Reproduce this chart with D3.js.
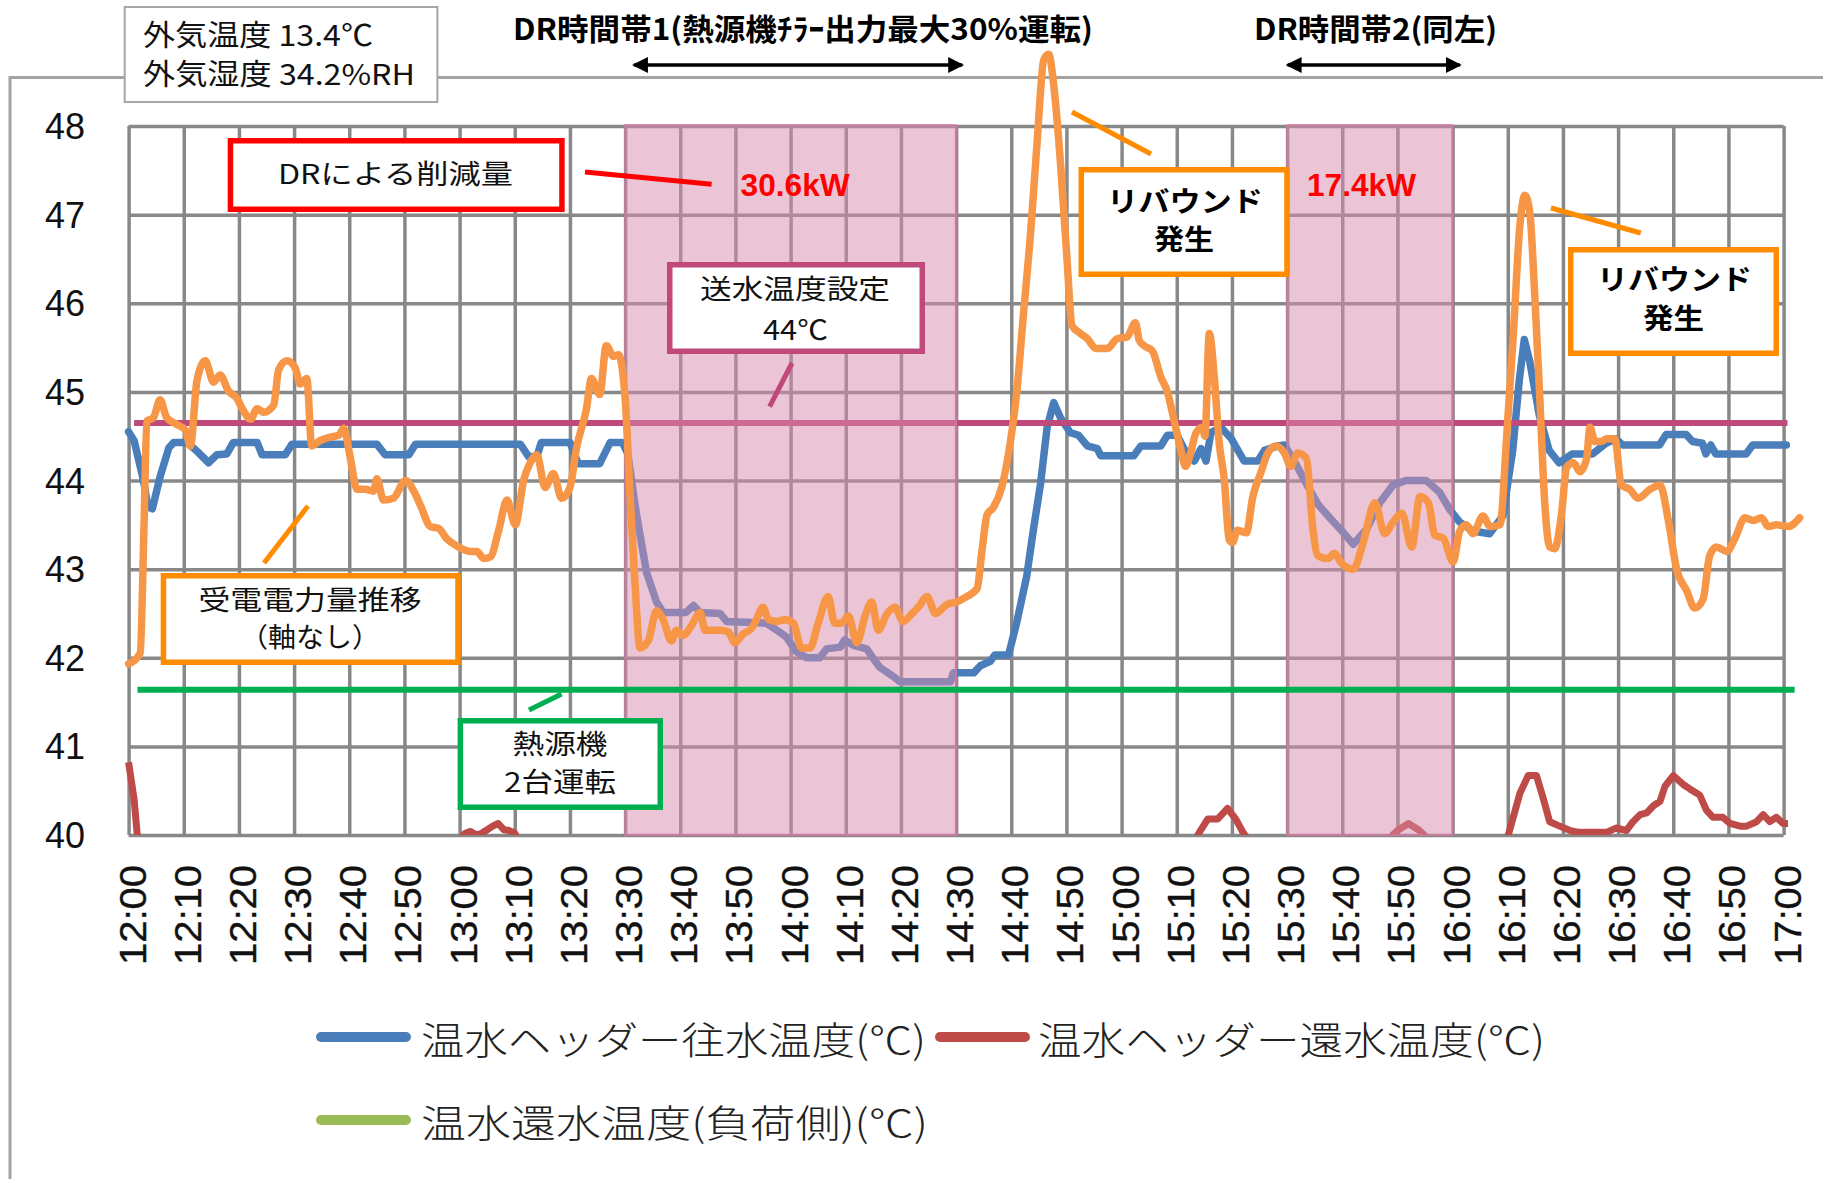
<!DOCTYPE html>
<html><head><meta charset="utf-8">
<script src="https://cdn.jsdelivr.net/npm/d3@7"></script>
<style>html,body{margin:0;padding:0;background:#fff;}svg{display:block;}</style>
</head><body>
<svg id="chart" width="1823" height="1179"></svg>
<script>
// ---------- data ----------
const xTickMinutes = [0,10,20,30,40,50,60,70,80,90,100,110,120,130,140,150,160,170,180,190,200,210,220,230,240,250,260,270,280,290,300];
const xTickLabels = ["12:00","12:10","12:20","12:30","12:40","12:50","13:00","13:10","13:20","13:30","13:40","13:50","14:00","14:10","14:20","14:30","14:40","14:50","15:00","15:10","15:20","15:30","15:40","15:50","16:00","16:10","16:20","16:30","16:40","16:50","17:00"];
const yTicks = [40,41,42,43,44,45,46,47,48];
const drPeriods = [[90,150],[210,240]];
const legendNames = ["温水ヘッダー往水温度(℃)","温水ヘッダー還水温度(℃)","温水還水温度(負荷側)(℃)"];

// 温水ヘッダー往水温度 [minutes after 12:00, ℃]
const supplyTemp = [[0,44.55],[1,44.45],[2.7,44.0],[3.5,43.7],[4.3,43.68],[5.7,44.04],[7.3,44.37],[8.2,44.43],[10.6,44.43],[12.4,44.33],[14.5,44.2],[16,44.29],[17.8,44.3],[19,44.43],[23.3,44.43],[24.2,44.29],[28.4,44.29],[29.6,44.41],[45,44.41],[46.5,44.29],[50.8,44.29],[52,44.41],[71,44.41],[72.5,44.27],[74,44.27],[74.8,44.43],[80,44.43],[81.5,44.19],[85.4,44.19],[87.3,44.43],[89.5,44.43],[90.5,44.3],[92,43.64],[93.9,42.96],[95.7,42.63],[96.9,42.51],[101,42.51],[102.4,42.59],[103.6,42.51],[107.2,42.5],[108.4,42.41],[115.6,42.39],[118,42.29],[119.3,42.23],[121,42.07],[122.9,42.0],[125.3,42.0],[126.5,42.1],[129,42.12],[129.8,42.2],[131.4,42.14],[133.8,42.1],[135,41.99],[136.2,41.89],[138.6,41.79],[139.8,41.73],[149,41.73],[149.5,41.83],[153.2,41.83],[154.4,41.91],[156.2,41.96],[157,42.03],[159.5,42.03],[161,42.4],[162.8,42.92],[164,43.44],[165.3,43.96],[166.5,44.6],[167.7,44.88],[168.9,44.71],[170.7,44.54],[172.2,44.51],[173.8,44.39],[175.6,44.36],[176.2,44.28],[182.2,44.28],[183.5,44.39],[187.1,44.39],[188.3,44.51],[190.1,44.51],[191.3,44.36],[193.2,44.22],[194.4,44.36],[195.3,44.22],[196.2,44.54],[198,44.6],[199.8,44.48],[202.2,44.22],[204.7,44.22],[205.9,44.34],[208.3,44.39],[209.5,44.4],[211.3,44.22],[213.8,43.93],[215.6,43.73],[218,43.56],[219.8,43.44],[222,43.28],[224.4,43.45],[226.8,43.75],[229.2,43.95],[231.6,44.0],[235.2,44.0],[237.6,43.87],[239.5,43.67],[241.3,43.53],[243.7,43.43],[246.7,43.4],[249.1,43.6],[250.9,44.34],[252.1,45.14],[253,45.59],[254,45.34],[255.7,44.74],[257.5,44.34],[259.3,44.2],[261.7,44.3],[265.4,44.3],[267.8,44.42],[269.6,44.47],[270.8,44.4],[277.5,44.4],[278.7,44.52],[282.3,44.52],[283.5,44.44],[285.3,44.42],[285.9,44.3],[286.8,44.4],[287.7,44.3],[293.2,44.3],[294.4,44.4],[300.5,44.4]];

// 温水ヘッダー還水温度 (mostly below 40, hidden under axis)
const returnTemp = [[0,40.82],[1,40.4],[2,39.7],[3,39.5],[59,39.5],[60,39.95],[61,40.02],[62,40.04],[63,40.0],[64,40.02],[65,40.06],[66,40.1],[67,40.13],[68,40.06],[69,40.05],[70,40.02],[71,39.9],[72,39.5],[192,39.5],[193.8,40.0],[195.6,40.18],[197.4,40.18],[199.2,40.3],[200.7,40.18],[201.9,40.04],[203.5,39.9],[204.5,39.5],[226,39.5],[228,39.93],[230,40.05],[232,40.13],[234,40.05],[236,39.93],[238,39.5],[248,39.5],[250.1,40.0],[252.2,40.47],[253.7,40.67],[255.2,40.67],[256.4,40.42],[257.6,40.15],[259.4,40.1],[261.3,40.05],[263,40.03],[267.9,40.03],[269.7,40.08],[271.5,40.05],[272.7,40.15],[274,40.23],[275.2,40.25],[276.4,40.33],[277.6,40.38],[278.5,40.55],[280,40.67],[281.8,40.57],[283,40.52],[284.8,40.45],[286,40.28],[287.2,40.2],[289,40.2],[290.3,40.13],[292.1,40.1],[293.3,40.1],[295.1,40.15],[296.3,40.23],[297.5,40.15],[298.7,40.2],[299.9,40.13],[300.8,40.13]];

// 受電電力量推移 (軸なし) — plotted on the same vertical scale
const powerTrend = [[0,41.93],[2.1,42.05],[2.8,43.5],[3.3,44.67],[4.5,44.71],[5.7,44.91],[6.9,44.71],[8.8,44.63],[10.3,44.57],[11.2,44.39],[12.4,45.13],[13.9,45.35],[15.4,45.11],[16.6,45.19],[18.1,45.01],[19.6,44.93],[20.8,44.79],[22.1,44.69],[23.3,44.81],[24.5,44.77],[26.3,44.85],[27.2,45.25],[28.7,45.35],[30.2,45.27],[31.1,45.09],[32.3,45.15],[33.2,44.39],[34.7,44.45],[36.6,44.49],[38.1,44.51],[39,44.59],[40.2,44.25],[41.4,43.9],[42.9,43.9],[44.4,43.88],[45,44.02],[46.2,43.78],[48,43.8],[50.2,44.0],[51.7,43.88],[52.9,43.72],[54.7,43.48],[56.2,43.46],[57.7,43.34],[59.5,43.26],[61.9,43.2],[63.1,43.2],[64.4,43.12],[65.6,43.14],[67.1,43.44],[68.6,43.78],[70.1,43.5],[71.6,44.0],[72.8,44.2],[74,44.29],[75.5,43.92],[77,44.08],[78.5,43.8],[80,43.92],[81.2,44.37],[83,44.81],[83.9,45.15],[85.4,44.97],[86.6,45.52],[87.9,45.4],[88.8,45.42],[90,44.93],[90.9,43.84],[91.8,42.83],[92.7,42.11],[94.2,42.19],[95.7,42.53],[96.9,42.43],[98.4,42.19],[99.3,42.31],[100.5,42.25],[102.1,42.37],[103.6,42.51],[104.5,42.31],[107.2,42.31],[108.7,42.29],[109.9,42.17],[111.4,42.27],[112.9,42.33],[113.8,42.43],[115,42.57],[116,42.43],[117.5,42.41],[119,42.43],[120.5,42.39],[122,42.11],[123.5,42.11],[125,42.39],[126.8,42.69],[128,42.39],[129.2,42.39],[130.5,42.47],[132,42.17],[133.5,42.47],[134.7,42.63],[135.9,42.31],[137.4,42.49],[138.9,42.57],[140.4,42.41],[141.9,42.49],[143.4,42.59],[144.7,42.69],[146.3,42.5],[148.3,42.6],[150.1,42.63],[151.9,42.69],[153.8,42.78],[154.7,43.21],[155.6,43.61],[156.8,43.7],[158.3,43.93],[159.8,44.42],[161,45.0],[162.2,45.87],[163.5,46.79],[164.7,47.83],[165.9,48.75],[166.8,48.81],[167.7,48.46],[168.9,47.6],[170.1,46.5],[171,45.75],[172.5,45.66],[173.8,45.6],[175.3,45.49],[177.4,45.49],[179.2,45.6],[181,45.62],[182.5,45.78],[183.2,45.58],[184.1,45.52],[185.6,45.46],[187.1,45.17],[188.3,45.0],[189.5,44.68],[190.7,44.36],[191.6,44.16],[192.5,44.31],[193.5,44.54],[194.7,44.6],[195.1,44.5],[195.9,45.66],[196.8,45.17],[197.7,44.42],[198.6,44.02],[199.5,43.33],[200.1,43.3],[201,43.44],[202.6,43.41],[203.8,43.82],[205.3,44.1],[206.5,44.31],[208,44.39],[209.5,44.31],[210.7,44.16],[211.9,44.31],[213.5,44.25],[214.7,43.44],[215.6,43.15],[217.4,43.12],[218.6,43.18],[219.8,43.07],[222,43.0],[223.8,43.3],[225.9,43.75],[227.7,43.4],[229.2,43.53],[230.8,43.63],[232.6,43.25],[234.1,43.82],[235.6,43.75],[236.8,43.38],[238.3,43.35],[240.1,43.08],[241.3,43.43],[242.5,43.5],[243.7,43.4],[245.5,43.6],[246.8,43.48],[248.6,43.5],[249.8,44.5],[251,45.64],[252.2,46.88],[253.1,47.22],[254,47.02],[254.9,46.08],[255.8,44.94],[256.7,43.75],[257.6,43.25],[258.5,43.23],[259.7,43.6],[260.7,44.15],[261.9,44.2],[263.1,44.1],[264.3,44.25],[264.9,44.6],[265.8,44.44],[267,44.44],[267.9,44.47],[269.4,44.47],[270.6,43.95],[272.1,43.9],[273.6,43.8],[275.8,43.9],[277.6,43.95],[279.1,43.55],[280.6,43.0],[282.4,42.76],[283.9,42.56],[285.4,42.66],[286.6,43.15],[287.8,43.25],[289.7,43.2],[291.2,43.35],[293,43.58],[294.5,43.55],[296,43.58],[297.2,43.48],[298.7,43.5],[300.8,43.48],[302.9,43.58]];

const setpointLine = [[1,44.65],[300.7,44.65]];   // 送水温度設定
const twoUnitLine  = [[1.6,41.64],[302,41.64]];   // 熱源機2台運転

// ---------- chart ----------
const svg = d3.select("#chart");
const M = {left:128.6, right:1783.6, top:126, bottom:835};
const x = d3.scaleLinear().domain([0,300]).range([M.left, M.right]);
const y = d3.scaleLinear().domain([40,48]).range([M.bottom, M.top]);
const JP = "'Noto Sans CJK JP','Noto Sans',sans-serif";
const LAT = "'Liberation Sans',Arial,sans-serif";

const defs = svg.append("defs");
defs.append("clipPath").attr("id","plotClip").append("rect")
  .attr("x",M.left-6).attr("y",M.top-10).attr("width",M.right-M.left+12).attr("height",M.bottom-M.top+10);
const mk = defs.append("marker").attr("id","arrowHead").attr("viewBox","0 0 16 16")
  .attr("refX",14).attr("refY",8).attr("markerWidth",16).attr("markerHeight",16)
  .attr("markerUnits","userSpaceOnUse").attr("orient","auto-start-reverse");
mk.append("path").attr("d","M0,0 L16,8 L0,16 Z").attr("fill","#000");

// outer chart frame
svg.append("path").attr("d","M10,1179 V77.5 H1823").attr("fill","none").attr("stroke","#a3a3a3").attr("stroke-width",3);

// grid
const gy = svg.append("g").attr("transform",`translate(${M.left},0)`)
  .call(d3.axisLeft(y).tickValues(yTicks).tickSize(-(M.right-M.left)).tickFormat(""));
gy.select(".domain").remove();
gy.selectAll("line").attr("stroke","#888").attr("stroke-width",3.5);
const gx = svg.append("g").attr("transform",`translate(0,${M.bottom})`)
  .call(d3.axisBottom(x).tickValues(xTickMinutes).tickSize(-(M.bottom-M.top)).tickFormat(""));
gx.select(".domain").remove();
gx.selectAll("line").attr("stroke","#888").attr("stroke-width",3.5);

const line = d3.line().x(d=>x(d[0])).y(d=>y(d[1]));
const smooth = d3.line().x(d=>x(d[0])).y(d=>y(d[1])).curve(d3.curveMonotoneX);

// series under the DR shading
svg.append("path").datum(supplyTemp).attr("d",line).attr("fill","none")
  .attr("stroke","#4a7ebb").attr("stroke-width",7.5).attr("stroke-linejoin","round").attr("stroke-linecap","round");
svg.append("g").attr("clip-path","url(#plotClip)").append("path").datum(returnTemp).attr("d",line)
  .attr("fill","none").attr("stroke","#be4b48").attr("stroke-width",7).attr("stroke-linejoin","round");
svg.append("path").datum(setpointLine).attr("d",line).attr("fill","none").attr("stroke","#c0497b").attr("stroke-width",6);

// DR shading
svg.append("g").selectAll("rect").data(drPeriods).join("rect")
  .attr("x",d=>x(d[0])).attr("y",M.top-1).attr("width",d=>x(d[1])-x(d[0])).attr("height",M.bottom-M.top+1)
  .attr("fill","rgb(215,139,171)").attr("fill-opacity",0.5)
  .attr("stroke","rgb(212,120,160)").attr("stroke-width",1.5);

// power trend and 2-unit line on top
svg.append("path").datum(powerTrend).attr("d",smooth).attr("fill","none")
  .attr("stroke","#f79646").attr("stroke-width",7.5).attr("stroke-linejoin","round").attr("stroke-linecap","round");
svg.append("path").datum(twoUnitLine).attr("d",line).attr("fill","none").attr("stroke","#00b050").attr("stroke-width",6);

// y labels
const yl = svg.append("g").attr("transform",`translate(${M.left},0)`)
  .call(d3.axisLeft(y).tickValues(yTicks).tickSize(0).tickPadding(43.6).tickFormat(d3.format("d")));
yl.select(".domain").remove();
yl.selectAll("text").attr("font-family",LAT).attr("font-size",36).attr("fill","#111").attr("dy","0.35em");

// x labels (rotated)
svg.append("g").selectAll("text").data(xTickMinutes).join("text")
  .attr("transform",d=>`translate(${x(d)+4},865) rotate(-90)`)
  .attr("text-anchor","end").attr("dy","0.35em")
  .attr("font-family",LAT).attr("font-size",37).attr("fill","#111")
  .attr("stroke","#111").attr("stroke-width",0.4)
  .attr("textLength",100).attr("lengthAdjust","spacingAndGlyphs")
  .text((d,i)=>xTickLabels[i]);

// helpers
function txt(s, x0, y0, o){
  const t = svg.append("text").attr("x",x0).attr("y",y0)
    .attr("font-family",o.family||JP).attr("font-size",o.size||27)
    .attr("font-weight",o.weight||"normal").attr("fill",o.fill||"#111")
    .attr("text-anchor",o.anchor||"start").attr("dominant-baseline","central").text(s);
  if(o.len) t.attr("textLength",o.len).attr("lengthAdjust","spacingAndGlyphs");
  return t;
}
function box(x0,y0,x1,y1,color,w){
  svg.append("rect").attr("x",x0+w/2).attr("y",y0+w/2).attr("width",x1-x0-w).attr("height",y1-y0-w)
    .attr("fill","#fff").attr("stroke",color).attr("stroke-width",w);
}
function seg(x0,y0,x1,y1,color,w){
  svg.append("line").attr("x1",x0).attr("y1",y0).attr("x2",x1).attr("y2",y1).attr("stroke",color).attr("stroke-width",w);
}

// weather box
box(123.7,6,438.4,103,"#a6a6a6",2);
txt("外気温度 13.4℃",143,33,{size:29,len:230});
txt("外気湿度 34.2%RH",143,72,{size:29,len:272});

// DR titles and arrows
txt("DR時間帯1(熱源機ﾁﾗｰ出力最大30%運転)",513,27,{size:30,weight:"bold",len:580,fill:"#000"});
txt("DR時間帯2(同左)",1254,27,{size:30,weight:"bold",len:243,fill:"#000"});
[[x(91.6),x(151.1)],[x(210.1),x(241.3)]].forEach(a=>{
  svg.append("line").attr("x1",a[0]).attr("x2",a[1]).attr("y1",65).attr("y2",65)
    .attr("stroke","#000").attr("stroke-width",3.5)
    .attr("marker-start","url(#arrowHead)").attr("marker-end","url(#arrowHead)");
});

// DR reduction annotation
seg(585,172,711.6,184.3,"#ff0000",5);
box(227.7,138,564.7,212,"#ff0000",5.5);
txt("DRによる削減量",395.4,172,{size:27,len:235,anchor:"middle"});
txt("30.6kW",740.6,185,{family:LAT,size:32,weight:"bold",fill:"#ff0000",len:109});
txt("17.4kW",1307,185,{family:LAT,size:32,weight:"bold",fill:"#ff0000",len:109});

// setpoint annotation
seg(792,363,769.6,406.7,"#c0497b",5);
box(667,262,925,354,"#c0497b",5.5);
txt("送水温度設定",795,287,{size:27,len:190,anchor:"middle"});
txt("44℃",795.5,328,{size:27,len:65,anchor:"middle"});

// rebound annotations
seg(1072,112,1151,154,"#ff8c00",5);
box(1078.5,167,1289.7,277,"#ff8c00",5.5);
txt("リバウンド",1185,200,{size:28,weight:"bold",len:156,anchor:"middle",fill:"#000"});
txt("発生",1184,238,{size:28,weight:"bold",len:60,anchor:"middle",fill:"#000"});
seg(1551,208,1640.7,233,"#ff8c00",5);
box(1568,247,1779,356,"#ff8c00",5.5);
txt("リバウンド",1674.5,278,{size:28,weight:"bold",len:155,anchor:"middle",fill:"#000"});
txt("発生",1673.5,317,{size:28,weight:"bold",len:61,anchor:"middle",fill:"#000"});

// power annotation
seg(264,563,308,506,"#ff8c00",5);
box(160.7,573,460.7,665,"#ff8c00",5.5);
txt("受電電力量推移",310,598,{size:27,len:223,anchor:"middle"});
txt("（軸なし）",310,635,{size:27,len:140,anchor:"middle"});

// two-unit annotation
seg(529,710,561.6,694,"#00b050",5);
box(457.6,718,663,810,"#00b050",5.5);
txt("熱源機",560,742,{size:27,len:95,anchor:"middle"});
txt("2台運転",560,780,{size:27,len:112,anchor:"middle"});

// legend
const legendItems = [
  {name:legendNames[0], color:"#4a7ebb", sx:316, tx:421, ty:1037, len:505},
  {name:legendNames[1], color:"#be4b48", sx:935, tx:1038, ty:1037, len:507},
  {name:legendNames[2], color:"#9bbb59", sx:316, tx:421, ty:1120, len:507}
];
const lg = svg.append("g");
legendItems.forEach(d=>{
  lg.append("line").attr("x1",d.sx+5).attr("x2",d.sx+90).attr("y1",d.ty).attr("y2",d.ty)
    .attr("stroke",d.color).attr("stroke-width",10).attr("stroke-linecap","round");
  lg.append("text").attr("x",d.tx).attr("y",d.ty).attr("dominant-baseline","central")
    .attr("font-family",JP).attr("font-weight",300).attr("font-size",38).attr("fill","#222")
    .attr("textLength",d.len).attr("lengthAdjust","spacingAndGlyphs").text(d.name);
});
</script>
</body></html>
